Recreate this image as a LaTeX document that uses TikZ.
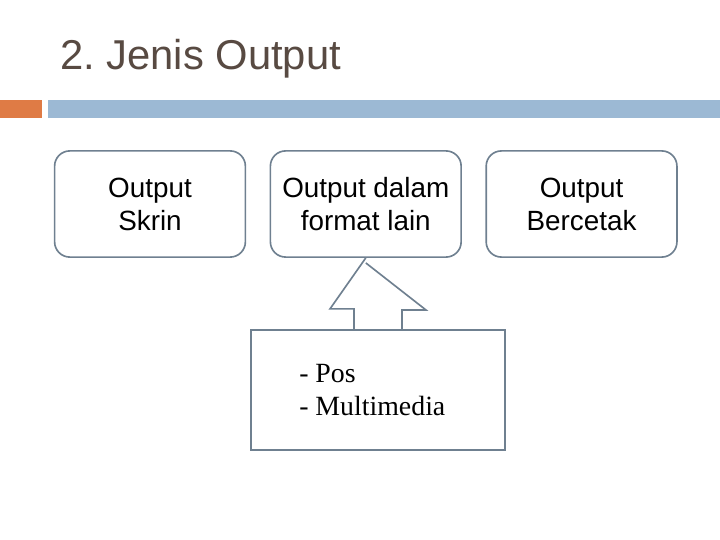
\documentclass[tikz,border=0pt]{standalone}
\usepackage{fontspec}
\setmainfont{Liberation Sans}
\newfontfamily\timesfont{Liberation Serif}
\usepackage{tikz}
\usetikzlibrary{positioning}
\definecolor{titlegray}{HTML}{584A42}
\definecolor{barorange}{HTML}{DF7B45}
\definecolor{barblue}{HTML}{9CB9D4}
\definecolor{edgegray}{HTML}{6F8090}
\frenchspacing
\begin{document}
\begin{tikzpicture}[x=0.02778cm,y=-0.02778cm]

\tikzstyle{outbox}=[draw=edgegray,line width=1.3pt,rounded corners=12pt,
  minimum width=5.3cm,minimum height=2.95cm,align=center,
  font=\fontsize{22}{26}\selectfont]

\useasboundingbox (0,0) rectangle (720,540);

%% title and bars
\node[anchor=base west,text=titlegray,font=\fontsize{33}{38}\selectfont,inner sep=0pt] (title) at (60,70) {2. Jenis Output};
\fill[barorange] (0,100) rectangle (42,118);
\fill[barblue] (48,100) rectangle (720,118);

%% output boxes
\node[outbox] (skrin) at (150,204) {Output\\Skrin};
\node[outbox,right=0.65cm of skrin] (lain) {Output dalam\\format lain};
\node[outbox,right=0.65cm of lain] (cetak) {Output\\Bercetak};

%% callout
\node[draw=edgegray,line width=1.3pt,minimum width=7.05cm,minimum height=3.35cm] (pos) at (378,390) {};
\node[anchor=west,align=left,font=\timesfont\fontsize{22}{26}\selectfont,inner sep=0pt] (postext) at (299,390) {- Pos\\- Multimedia};
\draw[edgegray,line width=1.3pt,fill=white] (pos.north) ++(-24,0) -- ++(0,-20) -- ++(-24,0)
  -- (lain.south) ++(0,5) coordinate (tip) -- (426,310) -- (402,310) -- (402,330);
\end{tikzpicture}
\end{document}
